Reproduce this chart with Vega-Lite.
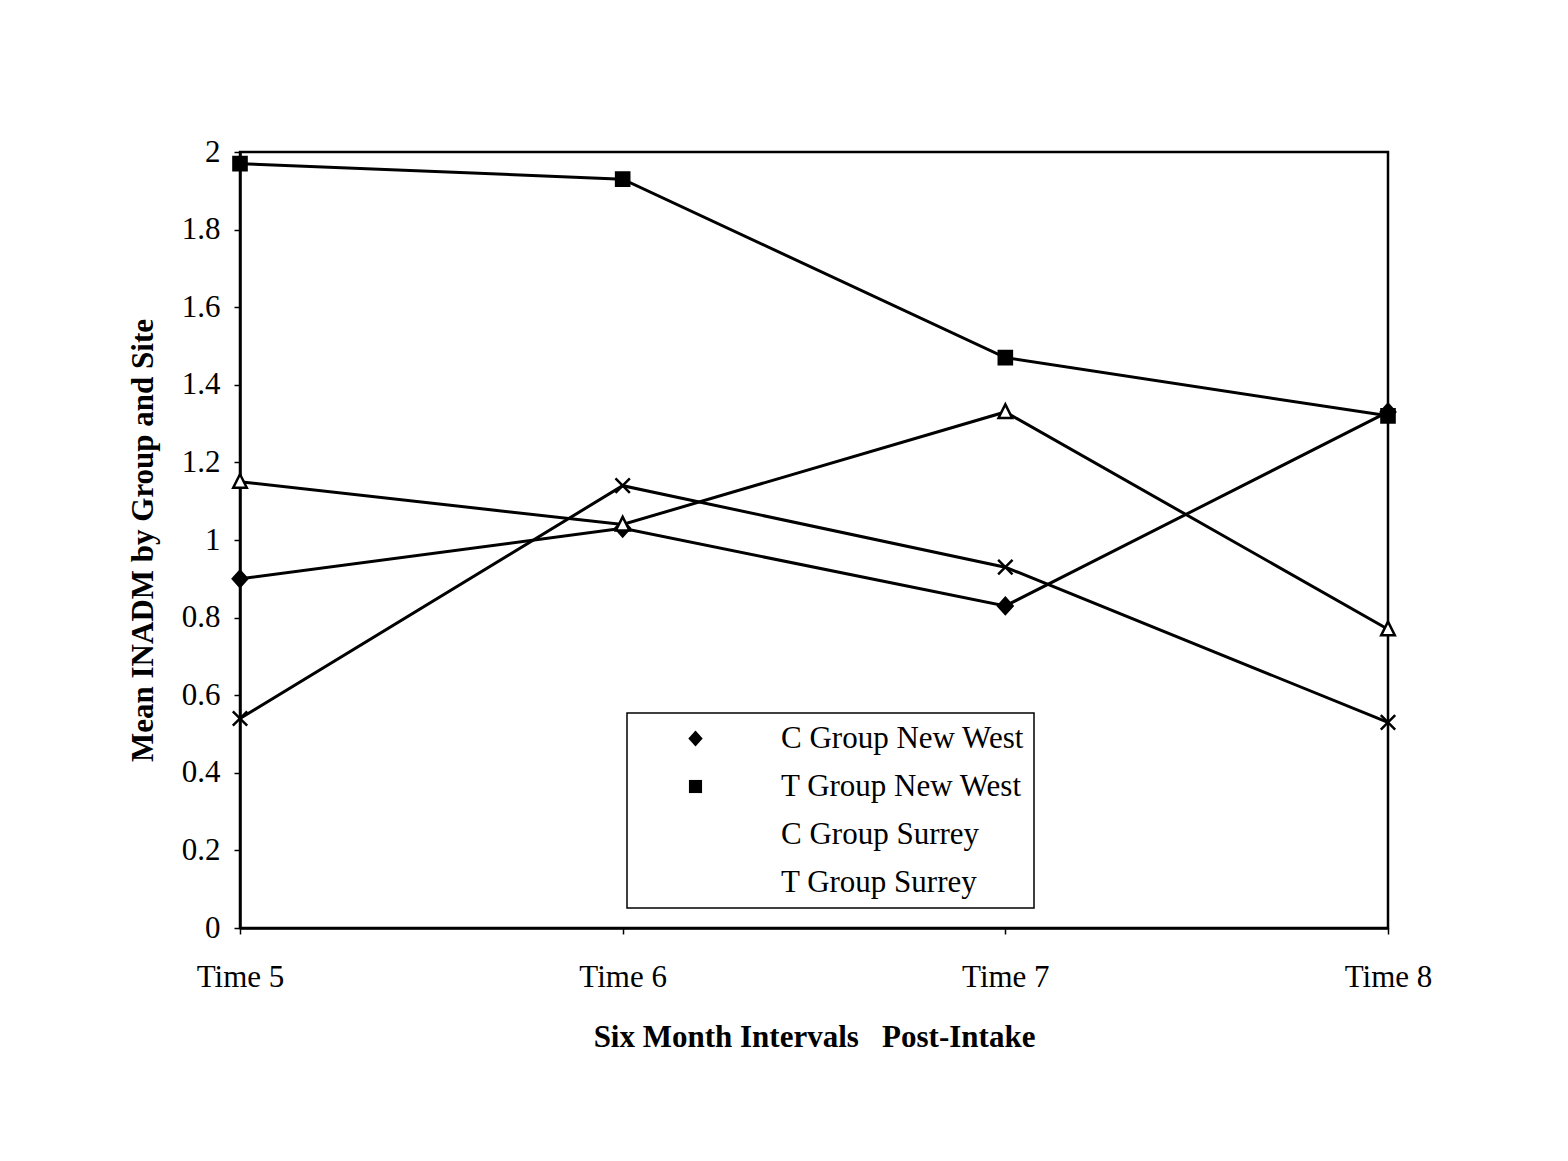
{
  "$schema": "https://vega.github.io/schema/vega-lite/v6.json",
  "width": 1148,
  "height": 776,
  "autosize": "none",
  "padding": {"left": 240, "top": 152, "right": 180, "bottom": 233},
  "background": "white",
  "data": {
    "values": [
      {"time": "Time 5", "series": "C Group New West", "value": 0.9},
      {"time": "Time 6", "series": "C Group New West", "value": 1.03},
      {"time": "Time 7", "series": "C Group New West", "value": 0.83},
      {"time": "Time 8", "series": "C Group New West", "value": 1.33},
      {"time": "Time 5", "series": "T Group New West", "value": 1.97},
      {"time": "Time 6", "series": "T Group New West", "value": 1.93},
      {"time": "Time 7", "series": "T Group New West", "value": 1.47},
      {"time": "Time 8", "series": "T Group New West", "value": 1.32},
      {"time": "Time 5", "series": "C Group Surrey", "value": 1.15},
      {"time": "Time 6", "series": "C Group Surrey", "value": 1.04},
      {"time": "Time 7", "series": "C Group Surrey", "value": 1.33},
      {"time": "Time 8", "series": "C Group Surrey", "value": 0.77},
      {"time": "Time 5", "series": "T Group Surrey", "value": 0.54},
      {"time": "Time 6", "series": "T Group Surrey", "value": 1.14},
      {"time": "Time 7", "series": "T Group Surrey", "value": 0.93},
      {"time": "Time 8", "series": "T Group Surrey", "value": 0.53}
    ]
  },
  "encoding": {
    "x": {
      "field": "time",
      "type": "ordinal",
      "scale": {"type": "point", "padding": 0},
      "axis": {
        "title": "Six Month Intervals\u00a0\u00a0\u00a0Post-Intake",
        "labelAngle": 0,
        "labelPadding": 28,
        "titlePadding": 30
      }
    },
    "y": {
      "field": "value",
      "type": "quantitative",
      "scale": {"domain": [0, 2], "nice": false, "zero": true},
      "axis": {
        "title": "Mean INADM by Group and Site",
        "values": [0, 0.2, 0.4, 0.6, 0.8, 1, 1.2, 1.4, 1.6, 1.8, 2],
        "format": "~g",
        "labelPadding": 14,
        "titlePadding": 22
      }
    }
  },
  "layer": [
    {
      "mark": {"type": "line", "color": "black", "strokeWidth": 3},
      "encoding": {"detail": {"field": "series"}}
    },
    {
      "mark": {"type": "point", "size": 256, "stroke": "black", "strokeWidth": 2.5, "opacity": 1, "filled": false},
      "encoding": {
        "shape": {
          "field": "series",
          "type": "nominal",
          "scale": {
            "domain": ["C Group New West", "T Group New West", "C Group Surrey", "T Group Surrey"],
            "range": [
              "M0,-1L0.9,0L0,1L-0.9,0Z",
              "M-0.82,-0.82H0.82V0.82H-0.82Z",
              "M0,-0.95L0.85,0.75H-0.85Z",
              "M-0.9,-0.9L0.9,0.9M0.9,-0.9L-0.9,0.9"
            ]
          },
          "legend": {
            "title": null,
            "orient": "none",
            "legendX": 387,
            "legendY": 561,
            "padding": 10,
            "rowPadding": 16,
            "symbolSize": 256,
            "symbolOffset": 43,
            "symbolStrokeColor": "black",
            "symbolStrokeWidth": 2.5,
            "symbolOpacity": 1,
            "labelOffset": 70,
            "labelFont": "Liberation Serif",
            "labelFontSize": 31,
            "labelColor": "black",
            "labelLimit": 400,
            "strokeColor": "black",
            "fillColor": "white"
          }
        },
        "fill": {
          "field": "series",
          "type": "nominal",
          "scale": {
            "domain": ["C Group New West", "T Group New West", "C Group Surrey", "T Group Surrey"],
            "range": ["black", "black", "white", "transparent"]
          },
          "legend": {
            "title": null,
            "orient": "none",
            "legendX": 387,
            "legendY": 561,
            "padding": 10,
            "rowPadding": 16,
            "symbolSize": 256,
            "symbolOffset": 43,
            "symbolStrokeColor": "black",
            "symbolStrokeWidth": 2.5,
            "symbolOpacity": 1,
            "labelOffset": 70,
            "labelFont": "Liberation Serif",
            "labelFontSize": 31,
            "labelColor": "black",
            "labelLimit": 400,
            "strokeColor": "black",
            "fillColor": "white"
          }
        }
      }
    }
  ],
  "config": {
    "view": {"stroke": "black", "strokeWidth": 2.5},
    "font": "Liberation Serif",
    "legend": {"strokeWidth": 1.5},
    "axis": {
      "grid": false,
      "domainColor": "black",
      "domainWidth": 2.5,
      "tickColor": "black",
      "tickWidth": 1.5,
      "tickSize": 6,
      "labelFont": "Liberation Serif",
      "labelFontSize": 31,
      "labelColor": "black",
      "titleFont": "Liberation Serif",
      "titleFontSize": 31,
      "titleFontWeight": "bold",
      "titleColor": "black"
    }
  }
}
